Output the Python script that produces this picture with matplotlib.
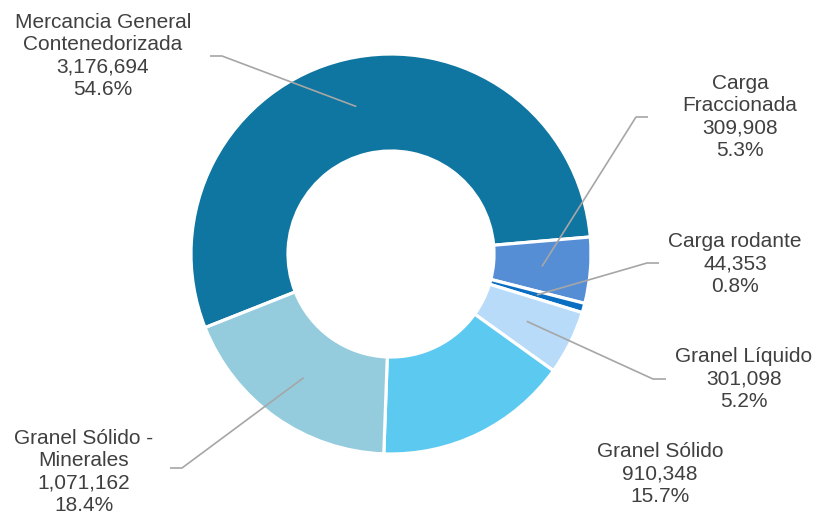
import matplotlib.pyplot as plt
import numpy as np

plt.rcParams['font.family'] = ['Liberation Sans', 'DejaVu Sans']

# Data
labels = ['Mercancia General\nContenedorizada', 'Carga\nFraccionada', 'Carga rodante',
          'Granel Líquido', 'Granel Sólido', 'Granel Sólido -\nMinerales']
values = [3176694, 309908, 44353, 301098, 910348, 1071162]
colors = ['#0E76A0', '#568ED6', '#0A6FC2', '#B8DBFA', '#5CC9F1', '#94CCDE']

# label block centres (pixels, from top-left) and leader elbows
label_pos = [(103, 56), (740, 117), (735, 264), (744, 379), (660, 474), (84, 472)]
elbow = [(210, 56), (648, 117), (659, 263), (666, 379), None, (170, 468)]
knee = [(222, 56), (636, 117), (647, 263), (653, 379), None, (182, 468)]

W, H = 818, 514
cx, cy, r, r_in = 391, 254, 200, 103

fig = plt.figure(figsize=(W / 100, H / 100), dpi=100)
ax = fig.add_axes([0, 0, 1, 1])

total = sum(values)
start = 201.6
wedges, _ = ax.pie(values, colors=colors, startangle=start, counterclock=False,
                   center=(cx, H - cy), radius=r, frame=True,
                   wedgeprops=dict(width=r - r_in, edgecolor='white', linewidth=2.3))
ax.set_xlim(0, W)
ax.set_ylim(0, H)
ax.axis('off')

rm = (r + r_in) / 2
for i, w in enumerate(wedges):
    mid = np.deg2rad((w.theta1 + w.theta2) / 2)
    px, py = cx + rm * np.cos(mid), (H - cy) + rm * np.sin(mid)
    if elbow[i] is not None:
        xs = [elbow[i][0], knee[i][0], px]
        ys = [H - elbow[i][1], H - knee[i][1], py]
        ax.plot(xs, ys, color='#A6A6A6', lw=1.2, solid_capstyle='butt')
    pct = values[i] / total * 100
    txt = f"{labels[i]}\n{values[i]:,}\n{pct:.1f}%"
    lx, ly = label_pos[i]
    ax.text(lx, H - ly, txt, ha='center', va='center', fontsize=15,
            color='#404040', linespacing=1.22)

fig.savefig('out.png', dpi=100)
